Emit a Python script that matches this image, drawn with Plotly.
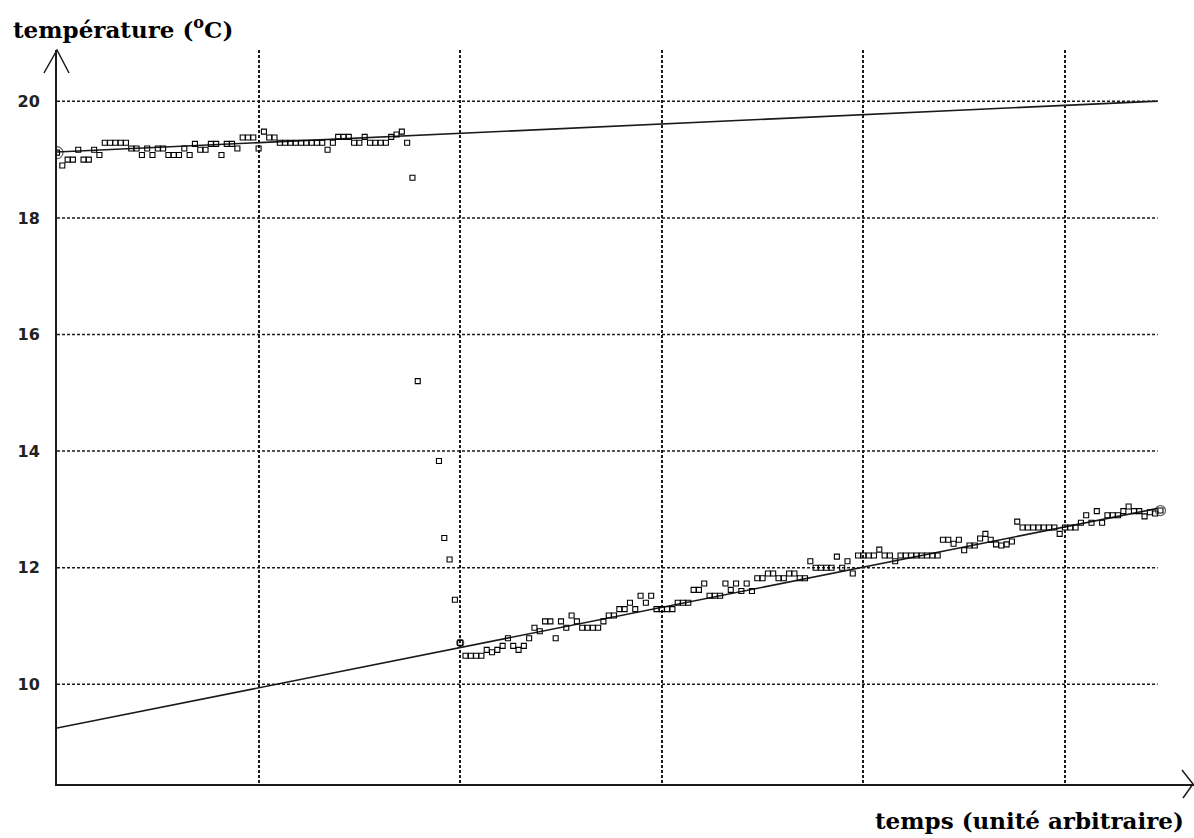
import plotly.graph_objects as go

# ---- data ----
dt = 1 / 38  # sampling step (time units; grid line every 1 unit)

temp_before = [19.12, 18.90, 19.00, 19.00, 19.17, 19.00, 19.00, 19.17, 19.08, 19.29,
               19.29, 19.29, 19.29, 19.29, 19.19, 19.19, 19.08, 19.19, 19.08, 19.19,
               19.19, 19.08, 19.08, 19.08, 19.19, 19.08, 19.27, 19.17, 19.17, 19.27,
               19.27, 19.08, 19.27, 19.27, 19.19, 19.38, 19.38, 19.38, 19.19, 19.48,
               19.38, 19.38, 19.29, 19.29, 19.29, 19.29, 19.29, 19.29, 19.29, 19.29,
               19.29, 19.17, 19.29, 19.39, 19.39, 19.39, 19.29, 19.29, 19.39, 19.29,
               19.29, 19.29, 19.29, 19.39, 19.43, 19.48, 19.29]

temp_drop = [18.69, 15.20, None, None, None, 13.83, 12.51, 12.14, 11.45]

temp_after = [10.71, 10.49, 10.49, 10.49, 10.49, 10.59, 10.55, 10.59, 10.66, 10.79,
              10.66, 10.59, 10.66, 10.79, 10.97, 10.91, 11.08, 11.08, 10.79, 11.08,
              10.97, 11.18, 11.08, 10.97, 10.97, 10.97, 10.97, 11.08, 11.18, 11.18,
              11.29, 11.29, 11.40, 11.29, 11.52, 11.40, 11.52, 11.29, 11.29, 11.29,
              11.29, 11.40, 11.40, 11.40, 11.62, 11.62, 11.73, 11.52, 11.52, 11.52,
              11.73, 11.62, 11.73, 11.60, 11.73, 11.60, 11.82, 11.82, 11.90, 11.90,
              11.82, 11.82, 11.90, 11.90, 11.82, 11.82, 12.11,
              12.00, 12.00, 12.00, 12.00, 12.19, 12.00, 12.11, 11.90, 12.21, 12.21,
              12.21, 12.21, 12.31, 12.21, 12.21, 12.11, 12.21, 12.21, 12.21, 12.21,
              12.21, 12.21, 12.21, 12.21, 12.48, 12.48, 12.41, 12.48, 12.30, 12.38,
              12.38, 12.50, 12.58, 12.48, 12.40, 12.38, 12.40, 12.45, 12.79, 12.69,
              12.69, 12.69, 12.69, 12.69, 12.69, 12.69, 12.58, 12.69, 12.69, 12.69,
              12.77, 12.90, 12.77, 12.97, 12.77, 12.90, 12.90, 12.90, 12.97, 13.05,
              12.97, 12.97, 12.88, 12.95, 12.93, 12.98]

# linear fits (intercept at t=0, slope per time unit)
fit_before = (19.13, 0.16)
fit_after = (9.25, 0.69)
fit_t_end = 5.46

y_ticks = [10, 12, 14, 16, 18, 20]
x_grid = [1, 2, 3, 4, 5]
x_range = [0, 5.64]
y_range = [8.29, 20.88]

# ---- build ----
temps = temp_before + temp_drop + temp_after
times = [i * dt for i in range(len(temps))]
i_after = len(temp_before) + len(temp_drop)
mark_idx = [0, i_after, len(temps) - 1]
mark_sizes = [12, 7, 10]

ink = "#1a1a1a"
grid_dash = "3px,2px"

fig = go.Figure()

for (a, b) in (fit_before, fit_after):
    fig.add_trace(go.Scatter(
        x=[0, fit_t_end], y=[a, a + b * fit_t_end], mode="lines",
        line=dict(color=ink, width=1.6), hoverinfo="skip", showlegend=False))

fig.add_trace(go.Scatter(
    x=times, y=temps, mode="markers",
    marker=dict(symbol="square-open", size=5, color="black", line=dict(width=1.1)),
    showlegend=False))

fig.add_trace(go.Scatter(
    x=[times[i] for i in mark_idx], y=[temps[i] for i in mark_idx], mode="markers",
    marker=dict(symbol="circle-open", size=mark_sizes, color=ink, line=dict(width=1.2)),
    showlegend=False))

shapes = []
for v in y_ticks:
    shapes.append(dict(type="line", xref="x", yref="y", x0=0, x1=fit_t_end, y0=v, y1=v,
                       line=dict(color=ink, width=1.5, dash=grid_dash), layer="below"))

# axis arrows (open chevrons) in paper coordinates
L, B, T, R = 57, 54, 50, 0
W, H = 1194 - L - R, 838 - T - B
def px(xp):
    return (xp - L) / W
def py(yp):
    return (838 - B - yp) / H
shapes.append(dict(type="path", xref="paper", yref="paper",
                   path=f"M {px(L-13)},{py(T+23)} L {px(L)},{py(T)} L {px(L+12)},{py(T+23)}",
                   line=dict(color=ink, width=1.5)))
xa = 838 - B
shapes.append(dict(type="path", xref="paper", yref="paper",
                   path=f"M {px(1182)},{py(xa-14)} L {px(1193)},{py(xa)} L {px(1183)},{py(xa+14)}",
                   line=dict(color=ink, width=1.5)))

serif = "DejaVu Serif"
annotations = [
    dict(text="<b>température (<sup>o</sup>C)</b>", xref="paper", yref="paper",
         x=px(11), y=py(28), xanchor="left", yanchor="middle", showarrow=False,
         font=dict(family=serif, size=23, color="black")),
    dict(text="<b>temps (unité arbitraire)</b>", xref="paper", yref="paper",
         x=px(1186), y=py(821), xanchor="right", yanchor="middle", showarrow=False,
         font=dict(family=serif, size=23, color="black")),
]

fig.update_layout(
    width=1194, height=838,
    margin=dict(l=L, r=R, t=T, b=B),
    paper_bgcolor="white", plot_bgcolor="white",
    shapes=shapes, annotations=annotations,
    xaxis=dict(range=x_range, tickvals=x_grid, showticklabels=False, ticks="",
               showgrid=True, gridcolor=ink, gridwidth=1.5, griddash=grid_dash,
               zeroline=False, showline=True, linecolor=ink, linewidth=2),
    yaxis=dict(range=y_range, tickvals=y_ticks, ticktext=[f"<b>{v}</b>" for v in y_ticks],
               ticks="", ticklabelstandoff=12, showgrid=False, zeroline=False,
               showline=True, linecolor=ink, linewidth=2,
               tickfont=dict(family="DejaVu Sans", size=16, color="#222")),
    showlegend=False,
)

fig.write_html("out.html", config={"displayModeBar": False},
               post_script="document.body.style.margin='0';")
